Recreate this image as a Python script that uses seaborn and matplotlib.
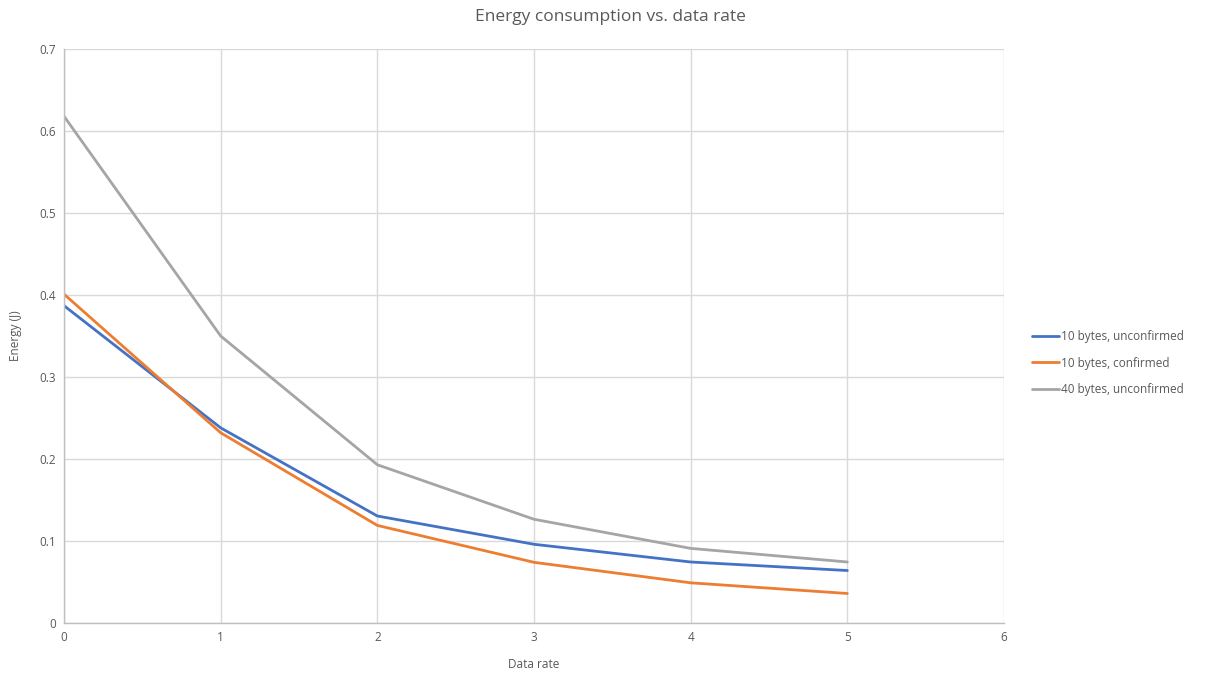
import matplotlib
matplotlib.use("Agg")
import matplotlib.pyplot as plt
import seaborn as sns
import pandas as pd

data_rate = [0, 1, 2, 3, 4, 5]
unconf_10 = [0.387, 0.238, 0.1305, 0.096, 0.0744, 0.064]
conf_10 = [0.401, 0.232, 0.119, 0.074, 0.049, 0.036]
unconf_40 = [0.618, 0.350, 0.193, 0.1265, 0.091, 0.0744]
series_names = ["10 bytes, unconfirmed", "10 bytes, confirmed", "40 bytes, unconfirmed"]
colors = ["#4472C4", "#ED7D31", "#A5A5A5"]

rows = []
for name, vals in zip(series_names, [unconf_10, conf_10, unconf_40]):
    for x, y in zip(data_rate, vals):
        rows.append({"Data rate": x, "Energy (J)": y, "Series": name})
df = pd.DataFrame(rows)

sns.set_theme(style="white")
plt.rcParams['font.family'] = ['Open Sans', 'DejaVu Sans']

fig = plt.figure(figsize=(12.11, 6.75), dpi=100)
ax = fig.add_axes([64/1211, 1-623/675, (1004-64)/1211, (623-49)/675])

sns.lineplot(data=df, x="Data rate", y="Energy (J)", hue="Series",
             palette=colors, hue_order=series_names, linewidth=2, ax=ax)

ax.set_xlim(0, 6)
ax.set_ylim(0, 0.7)
ax.set_xticks(range(0, 7))
ax.set_yticks([0, 0.1, 0.2, 0.3, 0.4, 0.5, 0.6, 0.7])
ax.set_yticklabels(["0", "0.1", "0.2", "0.3", "0.4", "0.5", "0.6", "0.7"])
ax.grid(True, color="#d9d9d9", linewidth=1)
ax.set_axisbelow(True)
for s in ["top", "right"]:
    ax.spines[s].set_visible(False)
for s in ["left", "bottom"]:
    ax.spines[s].set_color("#bfbfbf")
    ax.spines[s].set_linewidth(1)
ax.tick_params(axis="both", length=0, labelsize=8.5, colors="#595959", pad=6)
ax.set_xlabel("Data rate", fontsize=8.5, color="#595959", labelpad=10)
ax.set_ylabel("Energy (J)", fontsize=8.5, color="#595959", labelpad=12)
fig.text(610/1211, 1-17/675, "Energy consumption vs. data rate", ha="center", va="center",
         fontsize=12.5, color="#595959")

handles, labels = ax.get_legend_handles_labels()
leg = ax.legend(handles, labels, loc="center left", bbox_to_anchor=(1021/1211, 1-363/675),
                bbox_transform=fig.transFigure, frameon=False, fontsize=8.5,
                handlelength=2.3, handletextpad=0.15, labelspacing=1.15, labelcolor="#595959")

fig.savefig("out.png", dpi=100)
